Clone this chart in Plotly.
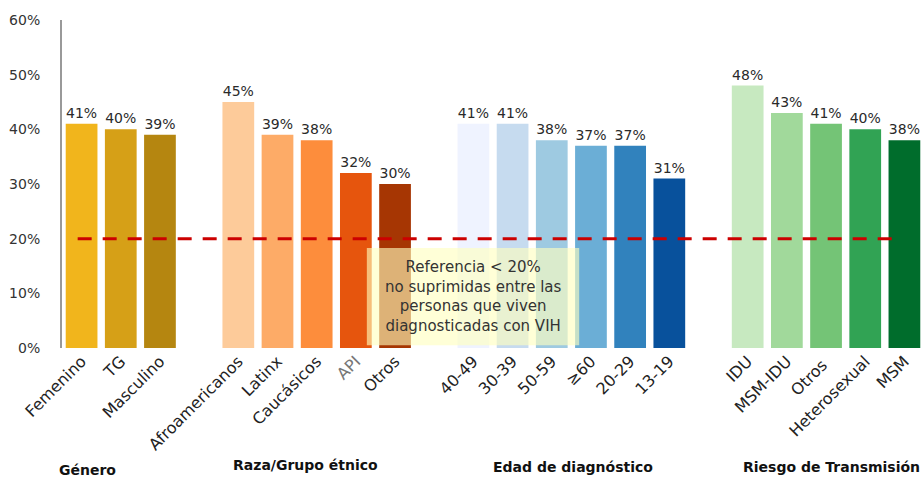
import plotly.graph_objects as go

# groups of categories, separated by an empty slot on the category axis
genero = ["Femenino", "TG", "Masculino"]
genero_vals = [41, 40, 39]
genero_colors = ["#F1B51C", "#D6A017", "#B58610"]

raza = ["Afroamericanos", "Latinx", "Caucásicos", "API", "Otros"]
raza_vals = [45, 39, 38, 32, 30]
raza_colors = ["#FDCB9A", "#FDAB67", "#FD8D3C", "#E6550D", "#A63603"]

edad = ["40-49", "30-39", "50-59", "≥60", "20-29", "13-19"]
edad_vals = [41, 41, 38, 37, 37, 31]
edad_colors = ["#EFF3FF", "#C6DBEF", "#9ECAE1", "#6BAED6", "#3182BD", "#08519C"]

riesgo = ["IDU", "MSM-IDU", "Otros ", "Heterosexual", "MSM"]
riesgo_vals = [48, 43, 41, 40, 38]
riesgo_colors = ["#C7E9C0", "#A1D99B", "#74C476", "#31A354", "#006D2C"]

group_titles = ["Género", "Raza/Grupo étnico", "Edad de diagnóstico", "Riesgo de Transmisión"]
referencia = 20
yticks = [0, 10, 20, 30, 40, 50, 60]

FONT = "DejaVu Sans"

groups = [
    (genero, genero_vals, genero_colors),
    (raza, raza_vals, raza_colors),
    (edad, edad_vals, edad_colors),
    (riesgo, riesgo_vals, riesgo_colors),
]

cats, vals, colors = [], [], []
for i, (c, v, col) in enumerate(groups):
    if i > 0:
        cats.append(" " * i)
        vals.append(None)
        colors.append("white")
    cats += c
    vals += v
    colors += col

labels = [f"{v}%" if v is not None else "" for v in vals]

ticktext = []
for c in cats:
    if c == "API":
        ticktext.append('<span style="color:#777">API</span>')
    else:
        ticktext.append(c)

fig = go.Figure()

fig.add_trace(go.Bar(
    x=cats,
    y=vals,
    text=labels,
    texttemplate="%{text}",
    marker=dict(color=colors, line=dict(width=0)),
    textposition="outside",
    constraintext="none",
    textfont=dict(family=FONT, size=14, color="#2a2a2a"),
    cliponaxis=False,
    hoverinfo="x+y",
))

# reference line
fig.add_shape(type="line", xref="x", yref="y",
              x0=-0.1, x1=20.75, y0=referencia, y1=referencia,
              line=dict(color="#CC0000", width=3, dash="14px,11px"))

# note box
fig.add_shape(type="rect", xref="x", yref="y",
              x0=7.28, x1=12.7, y0=0.5, y1=18.3,
              fillcolor="rgba(255,255,190,0.62)", line=dict(width=0),
              layer="above")
fig.add_annotation(
    x=9.99, y=9.4, xref="x", yref="y",
    text="Referencia < 20%<br>no suprimidas entre las<br>personas que viven<br>diagnosticadas con VIH",
    showarrow=False,
    font=dict(family=FONT, size=15, color="#333"),
)

title_pos = [(0.030, -0.372, "center"), (0.282, -0.357, "center"),
             (0.593, -0.363, "center"), (0.998, -0.363, "right")]
for t, (px, py, anchor) in zip(group_titles, title_pos):
    fig.add_annotation(
        x=px, y=py, xref="paper", yref="paper",
        text=t, showarrow=False, xanchor=anchor, yanchor="middle",
        font=dict(family=FONT, size=14, color="#111", weight="bold"),
    )

fig.update_layout(
    width=924,
    height=479,
    paper_bgcolor="white",
    plot_bgcolor="white",
    margin=dict(l=62, r=0, t=20, b=131),
    bargap=0.19,
    showlegend=False,
    font=dict(family=FONT, color="#333"),
)

fig.update_xaxes(
    type="category",
    categoryorder="array",
    categoryarray=cats,
    tickvals=cats,
    ticktext=ticktext,
    tickangle=-45,
    tickfont=dict(family=FONT, size=16, color="#222"),
    range=[-0.5, len(cats) - 0.5],
    showline=False,
    showgrid=False,
    ticks="",
    automargin=False,
)

fig.update_yaxes(
    range=[0, 60],
    tickvals=yticks,
    ticktext=[f"{v}%" for v in yticks],
    tickfont=dict(family=FONT, size=14, color="#333"),
    showgrid=False,
    zeroline=False,
    showline=True,
    linecolor="#999",
    linewidth=2,
    ticks="outside",
    ticklen=17,
    tickcolor="white",
    automargin=False,
)

# drop the default page margin so the figure fills the window exactly
fig.write_html(
    "out.html",
    config={"displayModeBar": False},
    post_script="document.body.style.margin='0';document.body.style.overflow='hidden';",
)
